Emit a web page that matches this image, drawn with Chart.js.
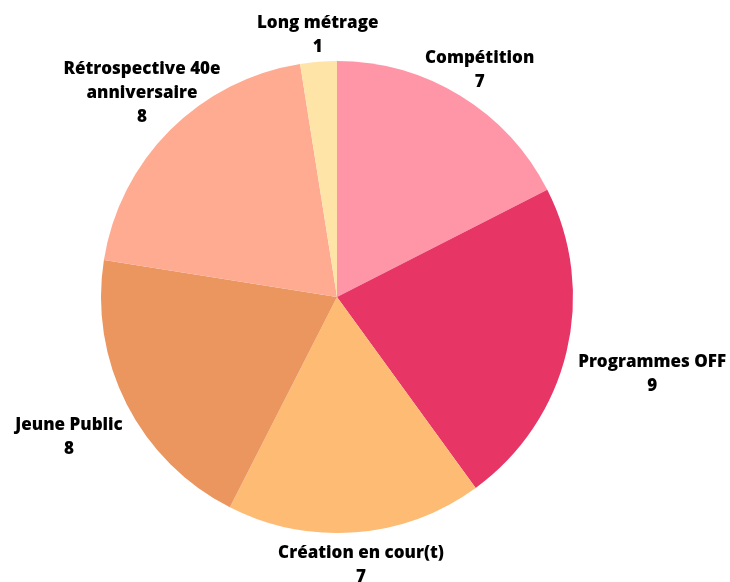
<!DOCTYPE html>
<html>
<head>
<meta charset="utf-8">
<script src="https://cdn.jsdelivr.net/npm/chart.js@4"></script>
<style>
  body { margin: 0; background: #fff; }
  #wrap { width: 730px; height: 582px; }
</style>
</head>
<body>
<div id="wrap"><canvas id="pieChart"></canvas></div>
<script>
const categories = ['Compétition', 'Programmes OFF', 'Création en cour(t)', 'Jeune Public', ['Rétrospective 40e', 'anniversaire'], 'Long métrage'];
const counts = [7, 9, 7, 8, 8, 1];
const colors = ['#ff96a8', '#e73566', '#fdbb74', '#eb955f', '#ffab92', '#ffe4a8'];
// small per-label nudges: angle (degrees) and extra distance from the rim (px)
const labelTurn = [-2.1, 2.6, 0.3, -3.1, 5.5, 0.8];
const labelGap = [0, 18, 9, 20, -8, 2];

const outsideLabels = {
  id: 'outsideLabels',
  afterDraw(chart) {
    const ctx = chart.ctx;
    const meta = chart.getDatasetMeta(0);
    ctx.save();
    ctx.font = '800 17px "Open Sans"';
    ctx.fillStyle = '#000';
    ctx.textAlign = 'center';
    ctx.textBaseline = 'middle';
    const lineH = 24;
    meta.data.forEach((arc, i) => {
      const p = arc.getProps(['x', 'y', 'startAngle', 'endAngle', 'outerRadius'], true);
      const mid = (p.startAngle + p.endAngle) / 2 + labelTurn[i] * Math.PI / 180;
      const r = p.outerRadius + labelGap[i];
      const ax = p.x + Math.cos(mid) * r;
      const ay = p.y + Math.sin(mid) * r;
      const lines = [].concat(categories[i], String(counts[i]));
      const w = Math.max(...lines.map(l => ctx.measureText(l).width));
      const h = lines.length * lineH;
      const cx = ax + Math.cos(mid) * w / 2;
      const cy = ay + Math.sin(mid) * h / 2;
      lines.forEach((l, k) => {
        ctx.fillText(l, cx, cy - h / 2 + lineH / 2 + k * lineH);
      });
    });
    ctx.restore();
  }
};

new Chart(document.getElementById('pieChart'), {
  type: 'pie',
  data: {
    labels: categories,
    datasets: [{
      data: counts,
      backgroundColor: colors,
      borderWidth: 0
    }]
  },
  options: {
    responsive: true,
    maintainAspectRatio: false,
    animation: false,
    layout: { padding: { left: 101, right: 157, top: 61, bottom: 49 } },
    plugins: {
      legend: { display: false },
      tooltip: { enabled: false }
    }
  },
  plugins: [outsideLabels]
});
</script>
</body>
</html>
